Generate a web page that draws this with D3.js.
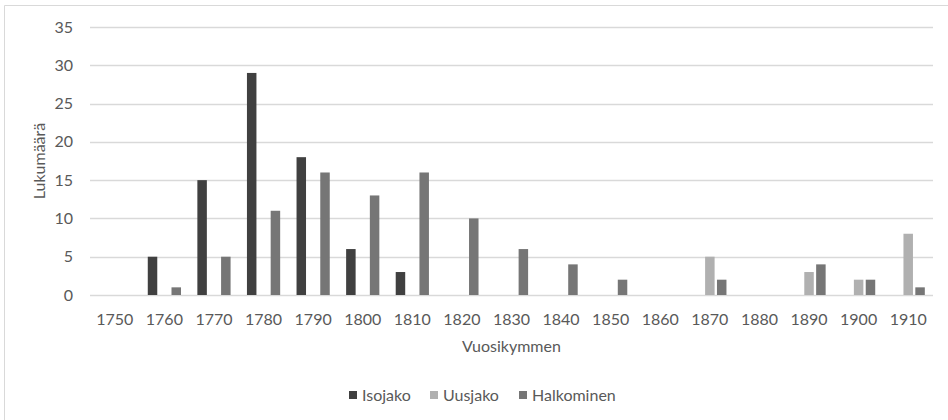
<!DOCTYPE html>
<html>
<head>
<meta charset="utf-8">
<script src="https://cdn.jsdelivr.net/npm/d3@7"></script>
<style>
  body { margin: 0; background: #fff; }
  text { font-family: Lato, "Open Sans", sans-serif; fill: #595959; }
</style>
</head>
<body>
<div id="chart"></div>
<script>
let decades = ['1750', '1760', '1770', '1780', '1790', '1800', '1810', '1820', '1830',
    '1840', '1850', '1860', '1870', '1880', '1890', '1900', '1910'];
let isojako =    [0, 5, 15, 29, 18, 6, 3, 0, 0, 0, 0, 0, 0, 0, 0, 0, 0];
let uusjako =    [0, 0, 0, 0, 0, 0, 0, 0, 0, 0, 0, 0, 5, 0, 3, 2, 8];
let halkominen = [0, 1, 5, 11, 16, 13, 16, 10, 6, 4, 2, 0, 2, 0, 4, 2, 1];
let seriesNames = ['Isojako', 'Uusjako', 'Halkominen'];
let seriesColors = ['#404040', '#b0b0b0', '#767676'];
let yTicks = [0, 5, 10, 15, 20, 25, 30, 35];

let W = 948, H = 420;
let margin = ({top: 27, right: 15, bottom: 125, left: 90});
let width = W - margin.left - margin.right;
let height = H - margin.top - margin.bottom;

let svg = d3.select('#chart').append('svg')
    .attr('width', W)
    .attr('height', H);

// chart border (only left and top are visible in the crop)
svg.append('path')
    .attr('d', `M4.5,${H} V5.5 H${W}`)
    .attr('fill', 'none')
    .attr('stroke', '#d9d9d9');

let g = svg.append('g')
    .attr('transform', `translate(${margin.left}, ${margin.top})`);

let x = d3.scaleBand().domain(decades).range([0, width]).paddingInner(0).paddingOuter(0);
let x1 = d3.scaleBand().domain(seriesNames).range([0, x.bandwidth()]).paddingOuter(0.69).paddingInner(0.2);
let y = d3.scaleLinear().domain([0, 35]).range([height, 0]);

// gridlines
g.selectAll('.grid')
    .data(yTicks)
    .enter().append('line')
    .attr('x1', 0).attr('x2', width)
    .attr('y1', d => Math.round(y(d)) + 0.5)
    .attr('y2', d => Math.round(y(d)) + 0.5)
    .attr('stroke', '#d9d9d9')
    .attr('stroke-width', 1.3);

g.selectAll('.ytick')
    .data(yTicks)
    .enter().append('text')
    .attr('x', -17)
    .attr('y', d => y(d))
    .attr('dy', '0.35em')
    .attr('text-anchor', 'end')
    .style('font-size', '16px')
    .text(d => d);

g.selectAll('.xtick')
    .data(decades)
    .enter().append('text')
    .attr('x', d => x(d) + x.bandwidth() / 2)
    .attr('y', height + 30)
    .attr('text-anchor', 'middle')
    .style('font-size', '16px')
    .text(d => d);

let allSeries = [isojako, uusjako, halkominen];
let groups = g.selectAll('.series')
    .data(allSeries)
    .enter().append('g')
    .attr('fill', (d, i) => seriesColors[i]);

groups.each(function(vals, si) {
    d3.select(this).selectAll('rect')
        .data(vals.map((v, i) => ({v: v, dec: decades[i]})).filter(d => d.v > 0))
        .enter().append('rect')
        .attr('x', d => x(d.dec) + x1(seriesNames[si]))
        .attr('width', x1.bandwidth())
        .attr('y', d => y(d.v))
        .attr('height', d => height - y(d.v));
});

// axis titles
g.append('text')
    .attr('x', width / 2)
    .attr('y', height + 57)
    .attr('text-anchor', 'middle')
    .style('font-size', '16px')
    .text('Vuosikymmen');

g.append('text')
    .attr('transform', `translate(${-45}, ${height / 2}) rotate(-90)`)
    .attr('text-anchor', 'middle')
    .style('font-size', '16px')
    .text('Lukumäärä');

// legend
let legendX = [349, 430, 519];
let legend = svg.selectAll('.legend')
    .data(seriesNames)
    .enter().append('g')
    .attr('transform', (d, i) => `translate(${legendX[i]}, 395)`);

legend.append('rect')
    .attr('x', 0).attr('y', -4)
    .attr('width', 8).attr('height', 8)
    .attr('fill', (d, i) => seriesColors[i]);

legend.append('text')
    .attr('x', 13)
    .attr('dy', '0.35em')
    .style('font-size', '16px')
    .text(d => d);
</script>
</body>
</html>
